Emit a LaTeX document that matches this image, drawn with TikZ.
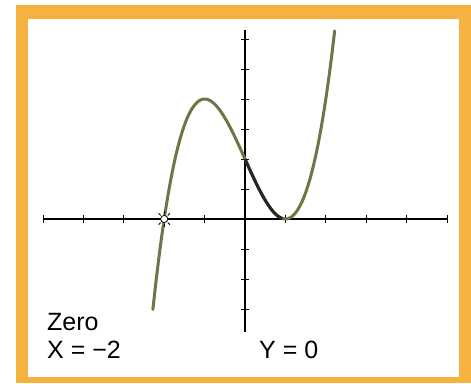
\documentclass[tikz,border=0pt]{standalone}
\usepackage{fontspec}
\setmainfont{Liberation Sans}
\definecolor{frameOrange}{RGB}{245,178,62}
\definecolor{curveOlive}{RGB}{112,116,70}

\begin{document}
\begin{tikzpicture}[x=1pt,y=-1pt]
  \useasboundingbox (0,0) rectangle (471,383);
  % frame
  \fill[frameOrange] (16,5) rectangle (471,383);
  \fill[white] (28,19) rectangle (459,377);
  % graph, origin where the axes cross
  \begin{scope}[shift={(245,219)},x=40.4pt,y=30pt]
    \draw[line width=1.6pt] (-5,0) -- (5,0);
    \draw[line width=1.6pt] (0,-3.77) -- (0,6.3);
    \foreach \i in {-5,...,-1,1,2,...,5}
      \draw[line width=1pt] (\i,0.13) -- (\i,-0.13);
    \foreach \j in {-3,...,-1,1,2,...,6}
      \draw[line width=1pt] (-0.1,\j) -- (0.1,\j);
    % y = (x+2)(x-1)^2
    \draw[curveOlive, line width=3pt, line cap=round] plot[smooth, domain=-2.28:2.22, samples=90] (\x,{(\x+2)*(\x-1)*(\x-1)});
    \draw[black!85, line width=3pt] plot[smooth, domain=0:0.93, samples=30] (\x,{(\x+2)*(\x-1)*(\x-1)});
    % zero marker
    \coordinate (zeroPt) at (-2,0);
    \foreach \a in {0,45,...,315}
      \draw[line width=0.8pt] (zeroPt) ++(\a:5pt) -- ++(\a:3pt);
    \draw[fill=white, line width=0.8pt] (zeroPt) circle (3.6pt);
  \end{scope}
  % read-out
  \node[anchor=base west, inner sep=0pt, font=\fontsize{25}{27}\selectfont] (zeroLabel) at (47,330) {Zero};
  \node[anchor=base west, inner sep=0pt, font=\fontsize{25}{27}\selectfont] (xLabel) at (47,358) {X = −2};
  \node[anchor=base west, inner sep=0pt, font=\fontsize{25}{27}\selectfont] (yLabel) at (259,358) {Y = 0};
\end{tikzpicture}
\end{document}
